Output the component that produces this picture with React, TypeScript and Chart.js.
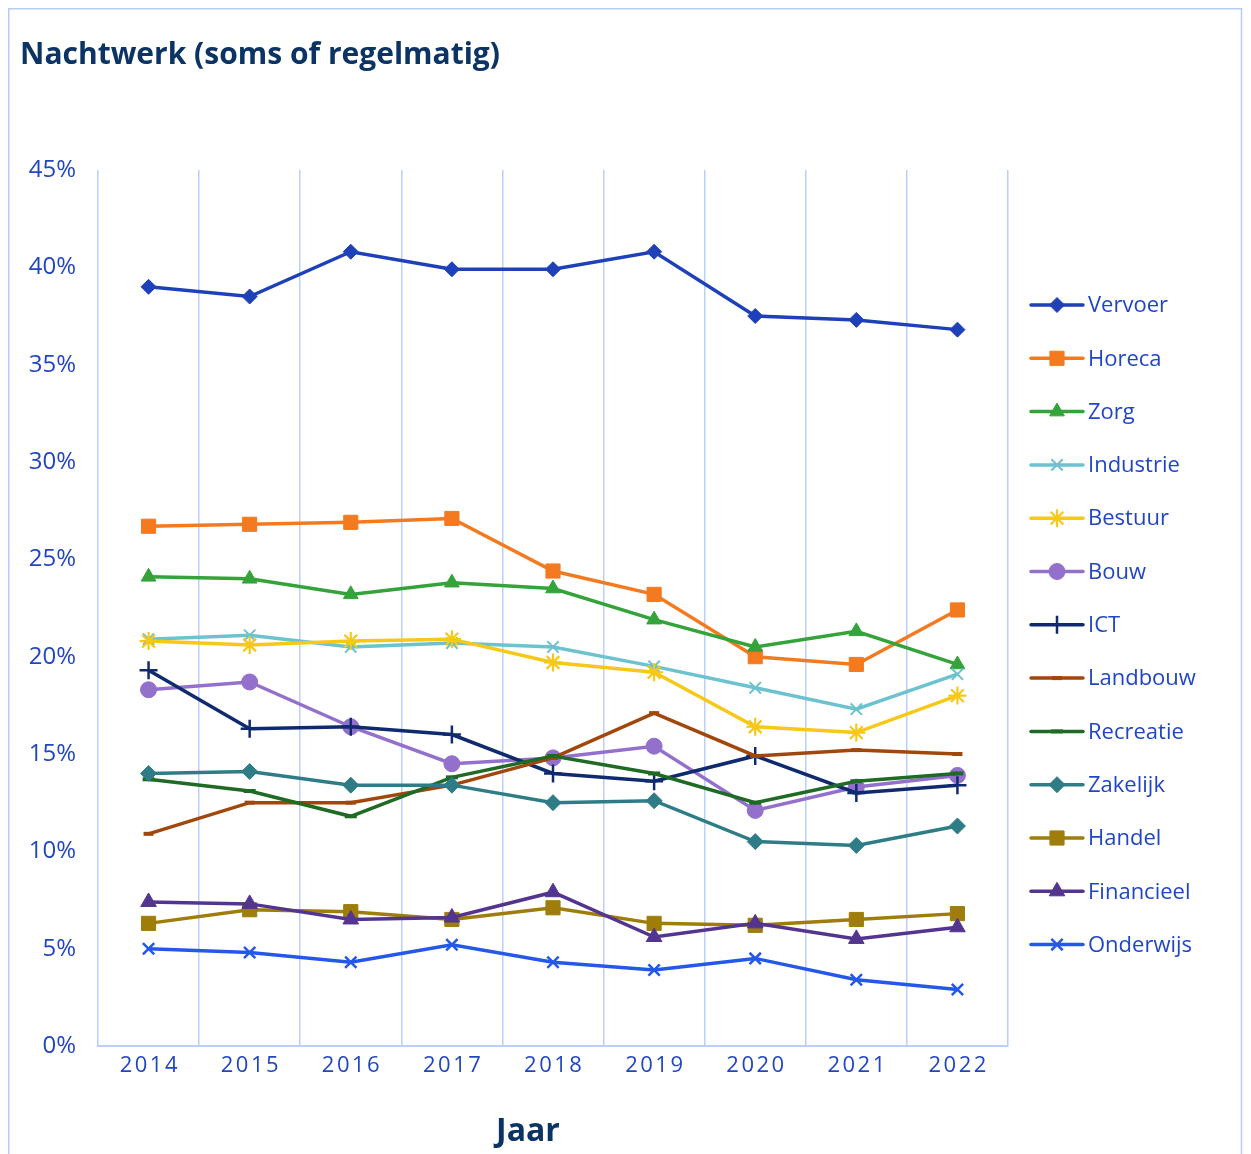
import React, { useEffect, useRef } from 'react';
import { Chart, registerables } from 'chart.js';
import { drawPoint } from 'chart.js/helpers';

Chart.register(...registerables);

const years = ['2014', '2015', '2016', '2017', '2018', '2019', '2020', '2021', '2022'];
const yTicks = [0, 5, 10, 15, 20, 25, 30, 35, 40, 45];

const vervoer = [39.0, 38.5, 40.8, 39.9, 39.9, 40.8, 37.5, 37.3, 36.8];
const horeca = [26.7, 26.8, 26.9, 27.1, 24.4, 23.2, 20.0, 19.6, 22.4];
const zorg = [24.1, 24.0, 23.2, 23.8, 23.5, 21.9, 20.5, 21.3, 19.6];
const industrie = [20.9, 21.1, 20.5, 20.7, 20.5, 19.5, 18.4, 17.3, 19.1];
const bestuur = [20.8, 20.6, 20.8, 20.9, 19.7, 19.2, 16.4, 16.1, 18.0];
const bouw = [18.3, 18.7, 16.4, 14.5, 14.8, 15.4, 12.1, 13.3, 13.9];
const ict = [19.3, 16.3, 16.4, 16.0, 14.0, 13.6, 14.9, 13.0, 13.4];
const landbouw = [10.9, 12.5, 12.5, 13.4, 14.8, 17.1, 14.9, 15.2, 15.0];
const recreatie = [13.7, 13.1, 11.8, 13.8, 14.9, 14.0, 12.5, 13.6, 14.0];
const zakelijk = [14.0, 14.1, 13.4, 13.4, 12.5, 12.6, 10.5, 10.3, 11.3];
const handel = [6.3, 7.0, 6.9, 6.5, 7.1, 6.3, 6.2, 6.5, 6.8];
const financieel = [7.4, 7.3, 6.5, 6.6, 7.9, 5.6, 6.3, 5.5, 6.1];
const onderwijs = [5.0, 4.8, 4.3, 5.2, 4.3, 3.9, 4.5, 3.4, 2.9];

const seriesNames = ['Vervoer', 'Horeca', 'Zorg', 'Industrie', 'Bestuur', 'Bouw', 'ICT', 'Landbouw', 'Recreatie', 'Zakelijk', 'Handel', 'Financieel', 'Onderwijs'];
const seriesValues = [vervoer, horeca, zorg, industrie, bestuur, bouw, ict, landbouw, recreatie, zakelijk, handel, financieel, onderwijs];
const seriesColors = ['#1e40b8', '#f47a20', '#33a33a', '#6cc2cf', '#f7c817', '#9370cc', '#0f2a6e', '#a2470c', '#1f6a24', '#2e7d86', '#9e7d0a', '#533590', '#2458e8'];
const seriesMarkers = ['rectRot', 'rect', 'triangle', 'crossRot', 'star', 'circle', 'cross', 'line', 'line', 'rectRot', 'rect', 'triangle', 'crossRot'];
const markerRadius = [7.5, 10, 8.5, 8, 9, 8, 9, 5, 6, 8, 10, 9, 8];
const markerBorder = [1, 1, 1, 2, 2.2, 1, 2.5, 4, 4, 1, 1, 1, 2.5];

const FONT = '"Open Sans", "Noto Sans", sans-serif';
const TEXT_BLUE = '#2146c4';
const NAVY = '#0b3364';
const GRID = '#bccffa';

export default function App() {
  const ref = useRef<HTMLCanvasElement>(null);

  useEffect(() => {
    const canvas = ref.current!;
    const datasets = seriesNames.map((name, i) => ({
      label: name,
      data: seriesValues[i],
      borderColor: seriesColors[i],
      backgroundColor: seriesColors[i],
      pointBackgroundColor: seriesColors[i],
      pointBorderColor: seriesColors[i],
      pointStyle: seriesMarkers[i] as any,
      pointRadius: markerRadius[i],
      pointBorderWidth: markerBorder[i],
      borderWidth: 3.5,
      tension: 0,
      order: -i,
    }));

    const custom = {
      id: 'custom',
      beforeDraw(chart: any) {
        const x = chart.scales.x;
        if (x && !x._lsPatched) {
          const orig = x.drawLabels.bind(x);
          x.drawLabels = (area: any) => {
            const c = chart.ctx;
            c.save();
            (c as any).letterSpacing = '2.5px';
            c.translate(1.25, 0);
            orig(area);
            c.restore();
          };
          x._lsPatched = true;
        }
      },
      afterDraw(chart: any) {
        const c: CanvasRenderingContext2D = chart.ctx;
        c.save();
        // outer border
        c.strokeStyle = '#b8cbf7';
        c.lineWidth = 1.5;
        c.beginPath();
        c.moveTo(0.75, 1200);
        c.lineTo(0.75, 0.75);
        c.lineTo(1233.5, 0.75);
        c.lineTo(1233.5, 1200);
        c.stroke();
        // title
        c.fillStyle = NAVY;
        c.font = `bold 30px ${FONT}`;
        c.textAlign = 'left';
        c.textBaseline = 'middle';
        c.fillText('Nachtwerk (soms of regelmatig)', 12, 47);
        // axis title
        c.font = `bold 32px ${FONT}`;
        c.textAlign = 'center';
        c.fillText('Jaar', 520, 1124);
        // legend
        const y0 = 297;
        const step = 53.3;
        seriesNames.forEach((name, i) => {
          const y = y0 + i * step;
          c.strokeStyle = seriesColors[i];
          c.lineWidth = 3.5;
          c.lineCap = 'round';
          c.beginPath();
          c.moveTo(1023, y);
          c.lineTo(1075, y);
          c.stroke();
          c.lineCap = 'butt';
          c.fillStyle = seriesColors[i];
          c.strokeStyle = seriesColors[i];
          c.lineWidth = markerBorder[i];
          drawPoint(c, { pointStyle: seriesMarkers[i], radius: markerRadius[i], rotation: 0, borderWidth: markerBorder[i] } as any, 1049, y);
          c.fillStyle = TEXT_BLUE;
          c.font = `22px ${FONT}`;
          c.textAlign = 'left';
          c.textBaseline = 'middle';
          c.fillText(name, 1080, y + 1);
        });
        c.restore();
      },
    };

    const chart = new Chart(canvas, {
      type: 'line',
      data: { labels: years, datasets },
      options: {
        responsive: false,
        animation: false,
        layout: { padding: { top: 162, right: 235, left: 0, bottom: 0 } },
        plugins: { legend: { display: false }, title: { display: false }, tooltip: { enabled: false } },
        scales: {
          x: {
            type: 'category',
            offset: true,
            grid: { display: true, offset: true, color: GRID, lineWidth: 1.5, drawTicks: false, tickLength: 0 },
            border: { display: true, color: GRID, width: 2 },
            ticks: { color: TEXT_BLUE, font: { family: FONT, size: 22 }, padding: 7, maxRotation: 0, autoSkip: false },
            afterFit: (s: any) => { s.height = 108; },
          },
          y: {
            min: 0,
            max: 45,
            grid: { display: false, drawTicks: false, tickLength: 0 },
            border: { display: false },
            afterBuildTicks: (s: any) => { s.ticks = yTicks.map((v) => ({ value: v })); },
            ticks: {
              color: TEXT_BLUE,
              font: { family: FONT, size: 24 },
              padding: 22,
              callback: (v: any) => `${v}%`,
            },
            afterFit: (s: any) => { s.width = 90; },
          },
        },
      },
      plugins: [custom],
    });
    return () => chart.destroy();
  }, []);

  return (
    <div style={{ width: 1235, height: 1146, position: 'relative' }}>
      <canvas ref={ref} width={1235} height={1146} style={{ display: 'block', width: 1235, height: 1146 }} />
    </div>
  );
}
